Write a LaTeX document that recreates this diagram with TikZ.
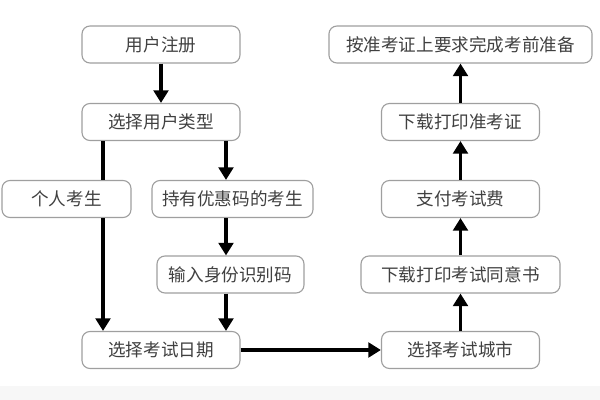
\documentclass[tikz,border=0pt]{standalone}
\usepackage{fontspec}
\setmainfont{Noto Sans CJK SC}
\usetikzlibrary{arrows.meta,calc}

\begin{document}
\begin{tikzpicture}[x=0.025cm,y=-0.025cm]
\tikzstyle{box} = [draw=gray!75,fill=white,line width=0.8pt,rounded corners=2mm,
  minimum width=3.95cm,minimum height=0.925cm,inner sep=0pt,
  font=\fontsize{12.5}{14}\selectfont,text=black!75]
\tikzstyle{link} = [line width=2.5pt,black]
\tikzstyle{arr} = [link,-{Triangle[length=9pt,width=10.5pt]}]
\useasboundingbox (0,0) rectangle (600,400);
\fill[black!3] (0,386) rectangle (600,400);
% left column
\node[box] (reg)  at (161,44.5)  {用户注册};
\node[box] (type) at (161,122)   {选择用户类型};
\node[box,minimum width=3.225cm] (ind)  at (66.5,199)  {个人考生};
\node[box,minimum width=4.025cm] (disc) at (232.5,199) {持有优惠码的考生};
\node[box,minimum width=3.675cm] (idc)  at (230.5,274.5) {输入身份识别码};
\node[box] (date) at (161,350)   {选择考试日期};
% right column
\node[box,minimum width=6.575cm] (prep) at (460.5,44.5) {按准考证上要求完成考前准备};
\node[box] (adm)  at (460.5,122) {下载打印准考证};
\node[box] (pay)  at (460.5,199) {支付考试费};
\node[box,minimum width=4.975cm] (cons) at (460.5,274.5) {下载打印考试同意书};
\node[box] (city) at (460.5,350) {选择考试城市};
\coordinate (l) at (103,0);
\coordinate (r) at (226,0);
\draw[arr] (reg) -- (type);
\draw[link] (type.south -| l) -- (ind.north -| l);
\draw[arr] (ind.south -| l) -- (date.north -| l);
\draw[arr] (type.south -| r) -- (disc.north -| r);
\draw[arr] (disc.south -| r) -- (idc.north -| r);
\draw[arr] (idc.south -| r) -- (date.north -| r);
\draw[arr] (date) -- (city);
\draw[arr] (city) -- (cons);
\draw[arr] (cons) -- (pay);
\draw[arr] (pay) -- (adm);
\draw[arr] (adm) -- (prep);
\end{tikzpicture}
\end{document}
